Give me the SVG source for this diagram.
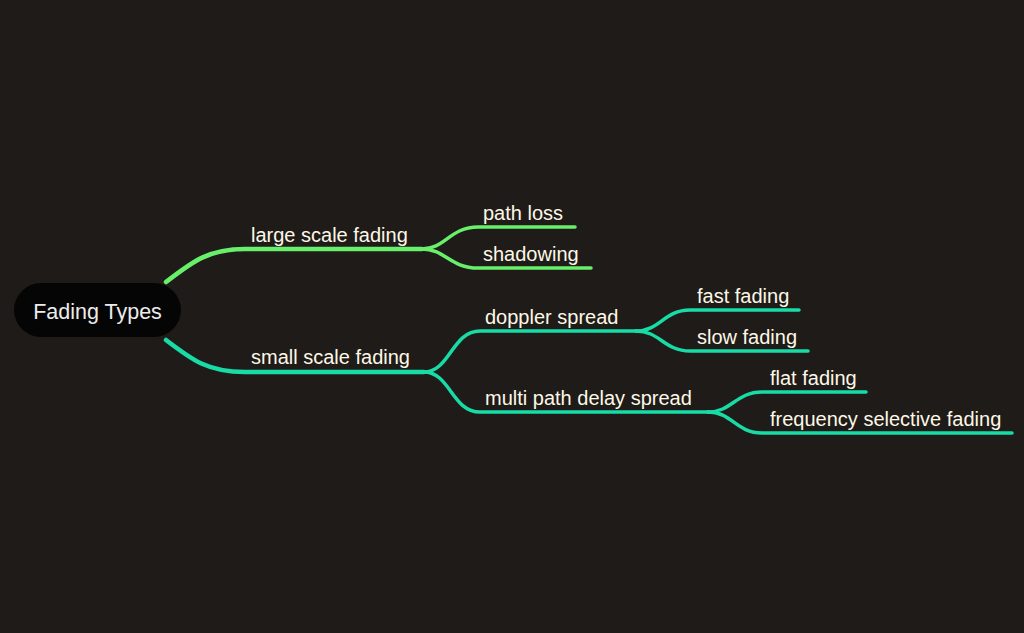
<svg xmlns="http://www.w3.org/2000/svg" width="1024" height="633" viewBox="0 0 1024 633">
<style>
.lbl{font-family:"Liberation Sans",Arial,sans-serif;font-size:20px;fill:#fdf8e6}
.g{stroke:#68f06b;fill:none;stroke-linecap:round}
.t{stroke:#18dca6;fill:none;stroke-linecap:round}
.w1{stroke-width:4.5}
.w2{stroke-width:3.5}
</style>
<rect width="1024" height="633" fill="#1f1b19"/>
<g id="connectors">
<path class="g w1" d="M166,282 C192,262 208,249 245,249 H422"/>
<path class="t w1" d="M166,340 C192,360 208,372 245,372 H424"/>
<path class="g w2" d="M422,249 C445,249 450,227 478,227 H575"/>
<path class="g w2" d="M422,249 C445,249 450,268 478,268 H591"/>
<path class="t w2" d="M424,372 C450,372 452,331 480,331 H636"/>
<path class="t w2" d="M424,372 C450,372 452,412 480,412 H708"/>
<path class="t w2" d="M636,331 C660,331 664,310 690,310 H799"/>
<path class="t w2" d="M636,331 C660,331 664,351 690,351 H808"/>
<path class="t w2" d="M708,412 C732,412 736,392 762,392 H866"/>
<path class="t w2" d="M708,412 C732,412 736,433 762,433 H1012"/>
</g>
<g id="root">
<rect x="14" y="283" width="167" height="54" rx="27" fill="#050505"/>
<text x="97.5" y="318.5" text-anchor="middle" class="lbl" style="font-size:21.5px;fill:#ececec">Fading Types</text>
</g>
<g id="large"><text x="251" y="242" class="lbl">large scale fading</text></g>
<g id="small"><text x="251" y="364" class="lbl">small scale fading</text></g>
<g id="pathloss"><text x="483" y="220" class="lbl">path loss</text></g>
<g id="shadowing"><text x="483" y="261" class="lbl">shadowing</text></g>
<g id="doppler"><text x="485" y="324" class="lbl">doppler spread</text></g>
<g id="multipath"><text x="485" y="405" class="lbl">multi path delay spread</text></g>
<g id="fast"><text x="697" y="303" class="lbl">fast fading</text></g>
<g id="slow"><text x="697" y="344" class="lbl">slow fading</text></g>
<g id="flat"><text x="770" y="385" class="lbl">flat fading</text></g>
<g id="freq"><text x="770" y="426" class="lbl">frequency selective fading</text></g>
</svg>
